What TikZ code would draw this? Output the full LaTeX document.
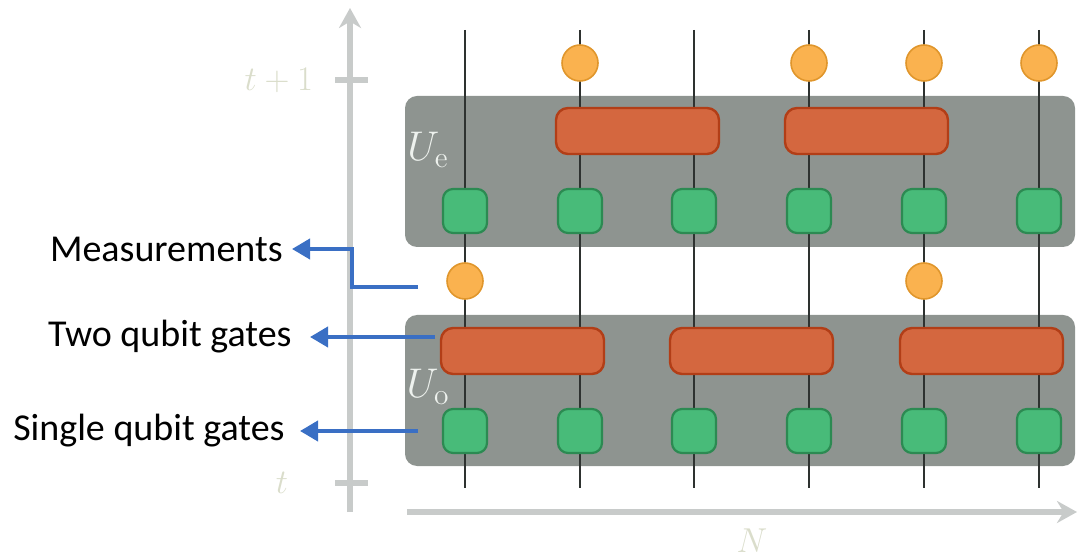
\documentclass[tikz,border=0pt]{standalone}
\usepackage{fontspec}
\newfontfamily\lab{Carlito}
\usetikzlibrary{arrows.meta}
\definecolor{axisgray}{HTML}{C8CBCA}
\definecolor{faint}{HTML}{DADDCB}
\definecolor{boxgray}{HTML}{8E9490}
\definecolor{ulab}{HTML}{EEF2EE}
\definecolor{gfill}{HTML}{48BB79}
\definecolor{gdraw}{HTML}{2C8A52}
\definecolor{ofill}{HTML}{D4673F}
\definecolor{odraw}{HTML}{B23E17}
\definecolor{yfill}{HTML}{FAB24F}
\definecolor{ydraw}{HTML}{E0962C}
\definecolor{wire}{HTML}{2E3230}
\definecolor{arrowblue}{HTML}{3A6FC4}
\tikzset{
  axis/.style={draw=axisgray, line width=3pt},
  tickmark/.style={draw=axisgray, line width=3pt},
  ubox/.style={fill=boxgray, rounded corners=6pt, minimum width=335pt, minimum height=75.5pt, inner sep=0pt},
  wireline/.style={draw=wire, line width=1pt},
  sgate/.style={fill=gfill, draw=gdraw, line width=1.1pt, rounded corners=5pt, minimum size=22pt, inner sep=0pt},
  tgate/.style={fill=ofill, draw=odraw, line width=1.2pt, rounded corners=6pt, minimum width=81.5pt, minimum height=23pt, inner sep=0pt},
  meas/.style={circle, fill=yfill, draw=ydraw, line width=0.8pt, minimum size=18pt, inner sep=0pt},
  pointer/.style={draw=arrowblue, line width=2pt, -{Triangle[length=9pt,width=10pt]}},
  sidelabel/.style={font=\lab\fontsize{19}{21}\selectfont, anchor=east, inner ysep=0pt},
  axlabel/.style={text=faint, font=\fontsize{16}{18}\selectfont},
  ulabel/.style={text=ulab, font=\fontsize{21}{23}\selectfont},
}
\begin{document}
\begin{tikzpicture}[x=0.5pt,y=-0.5pt]
\useasboundingbox (0,0) rectangle (1080,560);
% axes
\coordinate (vbot) at (350,512);
\coordinate (vtop) at (350,8);
\draw[axis, -{Stealth[length=10pt,width=11pt]}] (vbot) -- (vtop);
\coordinate (hl) at (407,512);
\coordinate (hr) at (1077,512);
\draw[axis, -{Stealth[length=10pt,width=11pt]}] (hl) -- (hr);
\coordinate (t1a) at (335,80); \coordinate (t1b) at (368,80);
\draw[tickmark] (t1a) -- (t1b);
\coordinate (t0a) at (335,483); \coordinate (t0b) at (368,483);
\draw[tickmark] (t0a) -- (t0b);
\node[axlabel, anchor=east] (lt1) at (320,80) {$t+1$};
\node[axlabel] (lt0) at (282,483) {$t$};
\node[axlabel] (lN) at (752,541) {$N$};
% boxes
\node[ubox] (Ue) at (740,171.5) {};
\node[ubox] (Uo) at (740,390.5) {};
\node[ulabel] (lUe) at (428,150) {$U_{\mathrm{e}}$};
\node[ulabel] (lUo) at (428,387) {$U_{\mathrm{o}}$};
% wires
\foreach \i/\x in {1/465,2/580,3/694,4/809,5/924,6/1039}{
  \coordinate (wt\i) at (\x,30);
  \coordinate (wb\i) at (\x,488);
  \draw[wireline] (wt\i) -- (wb\i);
}
% single qubit gates
\foreach \i/\x in {1/465,2/580,3/694,4/809,5/924,6/1039}{
  \node[sgate] (su\i) at (\x,211) {};
  \node[sgate] (sl\i) at (\x,431) {};
}
% two qubit gates
\node[tgate] (tu1) at (637.5,131) {};
\node[tgate] (tu2) at (866.5,131) {};
\node[tgate] (tl1) at (522.5,351) {};
\node[tgate] (tl2) at (751.5,351) {};
\node[tgate] (tl3) at (981.5,351) {};
% measurements
\foreach \i/\x in {2/580,4/809,5/924,6/1039}{
  \node[meas] (mt\i) at (\x,63) {};
}
\node[meas] (mm1) at (465,281) {};
\node[meas] (mm5) at (924,281) {};
% side labels
\node[sidelabel, inner xsep=4.5pt] (Lm) at (292,249) {Measurements};
\node[sidelabel, inner xsep=9pt] (Lt) at (310,337) {Two qubit gates};
\node[sidelabel, inner xsep=7.5pt] (Ls) at (300,431) {Single qubit gates};
\coordinate (am) at (418,287);
\coordinate (at) at (435,337);
\coordinate (as) at (418,431);
\draw[pointer] (am) -- (352,287) -- (352,249) -- (Lm.east);
\draw[pointer] (at) -- (Lt.east);
\draw[pointer] (as) -- (Ls.east);
\end{tikzpicture}
\end{document}
